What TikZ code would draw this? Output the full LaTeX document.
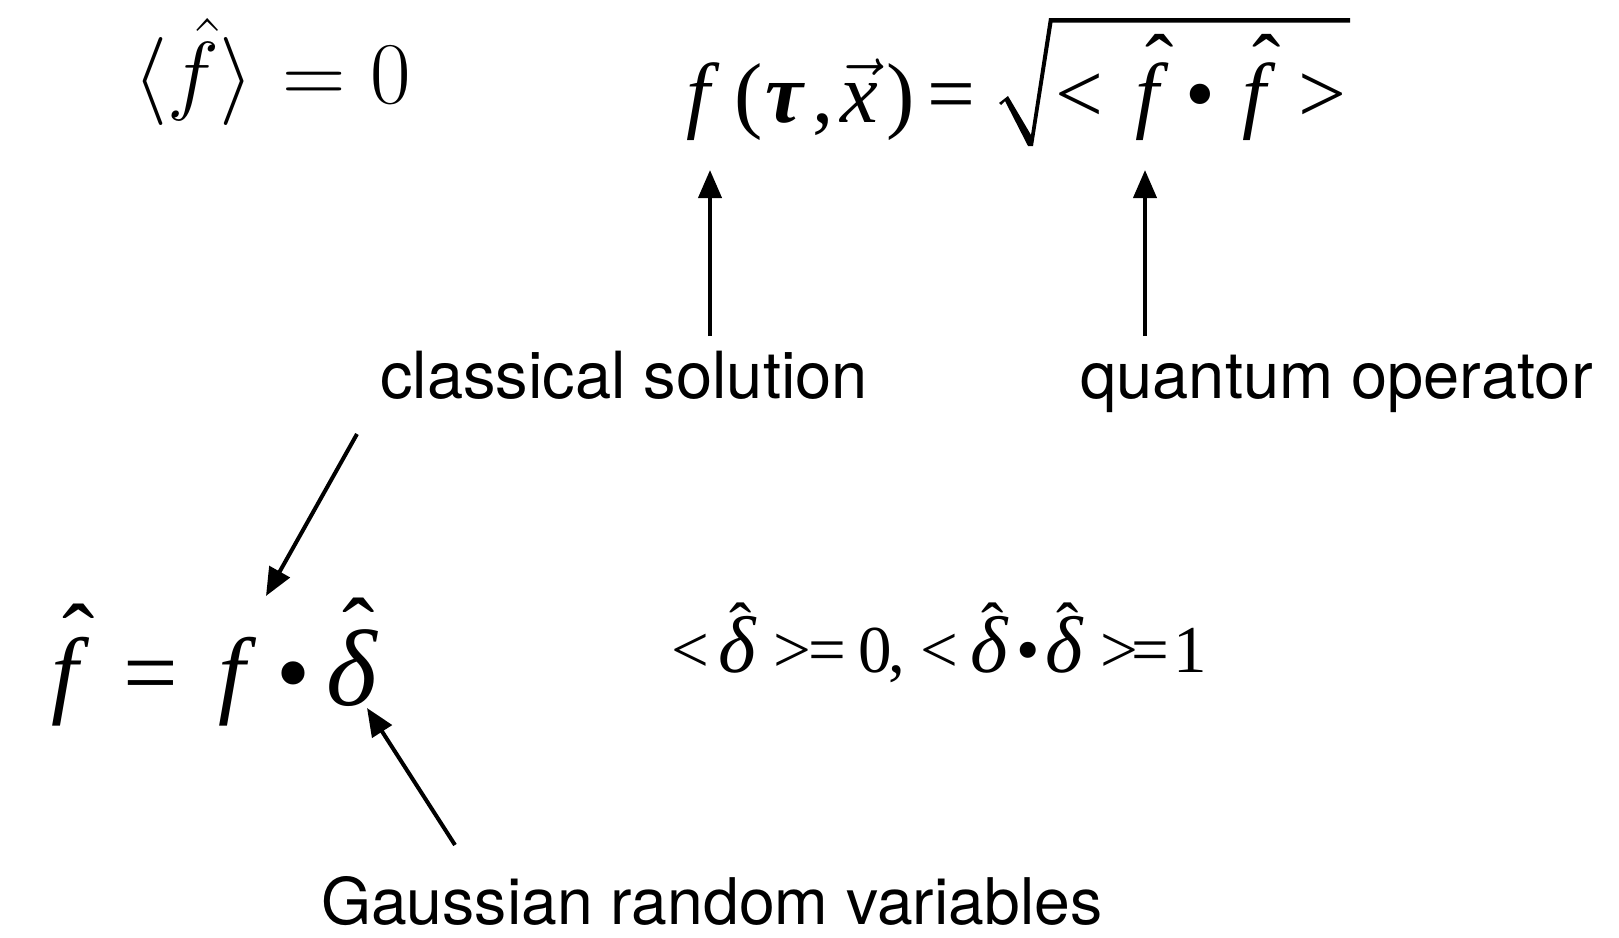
\RequirePackage{fix-cm}
\documentclass[tikz,border=0pt]{standalone}
\usepackage{graphicx}
\usepackage{fontspec}
\usetikzlibrary{arrows.meta}
\newfontfamily\tnr{Liberation Serif}
\newfontfamily\helv{TeX Gyre Heros}
\newcommand{\gb}[2]{\makebox[#1][l]{#2}}
\newcommand{\hatat}[3]{\makebox[0pt][l]{\hspace*{#1}\raisebox{#2}{ˆ}}#3}
\tikzset{
  lbl/.style={font=\helv\fontsize{65}{70}\selectfont, inner sep=0pt, anchor=base west},
  frm/.style={inner sep=0pt, anchor=base west},
  arr/.style={line width=4pt, -{Triangle[length=28pt,width=23pt]}}
}
\begin{document}
\begin{tikzpicture}[x=1pt,y=-1pt]
\useasboundingbox (0,0) rectangle (1619,937);
\fill[white] (0,0) rectangle (1619,937);

% top-left formula
\node[frm] (mean) at (133,103) {\fontsize{88}{95}\selectfont ${\langle\hat{f}\rangle}\mskip6mu{=}\mskip5mu{0}$};

% top formula
\node[frm] (fdef) at (686,122) {\tnr\fontsize{85}{90}\selectfont
\gb{48pt}{\textit{f}}\gb{31pt}{(}\gb{47pt}{\textbf{\textit{τ}}}\gb{28pt}{,}\gb{46pt}{$\vec{\textit{x}}$}\gb{41pt}{)}\gb{128pt}{=}\gb{80pt}{<}\gb{50pt}{\hatat{10pt}{29pt}{\textit{f}}}\gb{57pt}{•}\gb{56pt}{\hatat{10pt}{29pt}{\textit{f}}}>};
% radical sign
\fill (999,103) -- (1008,96) -- (1031,135) -- (1049,18) -- (1350,18) -- (1350,22.5)
  -- (1052.5,22.5) -- (1033,146) -- (1028,146) -- (1005,101) -- (1001,105) -- cycle;

% bottom-left formula
\node[frm] (fhat) at (51,705) {\tnr\fontsize{97}{100}\selectfont
\gb{72pt}{\hatat{11pt}{34pt}{\textit{f}}}\gb{95pt}{=}\gb{58.5pt}{\textit{f}}\gb{49.5pt}{•}\hatat{16pt}{40pt}{\scalebox{1.12}{\textit{δ}}}};

% bottom-right formula
\node[frm] (delta) at (671,672) {\tnr\fontsize{67}{70}\selectfont
\gb{47pt}{<}\gb{55pt}{\hatat{11pt}{22.5pt}{\scalebox{1.2}{\textit{δ}}}}\gb{35pt}{>}\gb{50pt}{=}\gb{30pt}{0}\gb{32pt}{,}\gb{50pt}{<}\gb{46pt}{\hatat{11pt}{22.5pt}{\scalebox{1.2}{\textit{δ}}}}\gb{29pt}{•}\gb{55pt}{\hatat{11pt}{22.5pt}{\scalebox{1.2}{\textit{δ}}}}\gb{31pt}{>}\gb{42pt}{=}1};

% labels
\node[lbl] (cs) at (380,398) {classical solution};
\node[lbl] (qo) at (1080,398) {quantum operator};
\node[lbl, font=\helv\fontsize{64.3}{70}\selectfont] (gr) at (321,924) {Gaussian random variables};

% arrows
\coordinate (a1s) at (710,336); \coordinate (a1e) at (710,170);
\coordinate (a2s) at (1145,336); \coordinate (a2e) at (1145,170);
\coordinate (a3s) at (357,434); \coordinate (a3e) at (266,596);
\coordinate (a4s) at (455,845); \coordinate (a4e) at (367,708);
\draw[arr] (a1s) -- (a1e);
\draw[arr] (a2s) -- (a2e);
\draw[arr] (a3s) -- (a3e);
\draw[arr] (a4s) -- (a4e);
\end{tikzpicture}
\end{document}
